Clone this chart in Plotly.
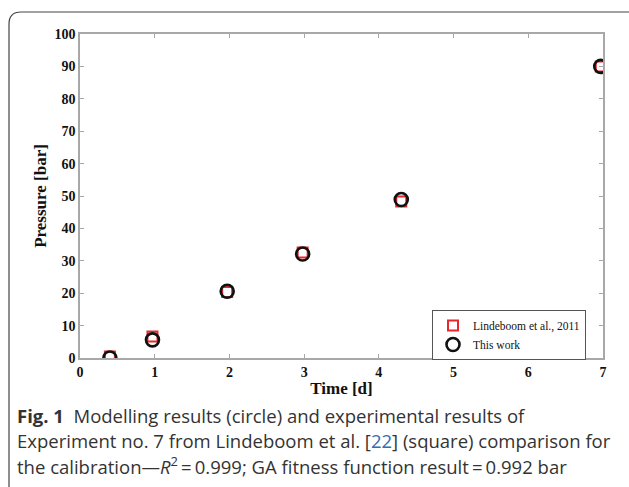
import plotly.graph_objects as go

time_exp = [0.4, 0.97, 1.97, 2.98, 4.3, 6.97]
press_exp = [0.5, 6.6, 20.4, 32.6, 48.3, 90.0]
time_model = [0.4, 0.97, 1.97, 2.98, 4.3, 6.97]
press_model = [0.0, 5.6, 20.6, 32.1, 48.9, 90.0]
x_ticks = [0, 1, 2, 3, 4, 5, 6, 7]
y_ticks = [0, 10, 20, 30, 40, 50, 60, 70, 80, 90, 100]

W, H = 629, 487
L, R, T, B = 80, 26, 34, 129
pw, ph = W - L - R, H - T - B

def px(x):
    return (x - L) / pw

def py(y):
    return (H - B - y) / ph

fig = go.Figure()
fig.add_trace(go.Scatter(
    x=time_exp, y=press_exp, mode="markers", name="Lindeboom et al., 2011",
    marker=dict(symbol="square-open", size=10, color="#e8262b", line=dict(width=2, color="#e8262b")),
))
fig.add_trace(go.Scatter(
    x=time_model, y=press_model, mode="markers", name="This work",
    marker=dict(symbol="circle-open", size=13, color="#111111", line=dict(width=2.6, color="#111111")),
))

axis_common = dict(
    showgrid=False, zeroline=False, showline=True, linecolor="#a8a8a8", linewidth=1.5,
    mirror="ticks", ticks="inside", ticklen=4, tickcolor="#a8a8a8",
    tickfont=dict(family="Liberation Serif", size=14, color="#111"),
)
fig.update_xaxes(range=[0, 7], tickvals=x_ticks, ticktext=[f"<b>{v}</b>" for v in x_ticks], **axis_common,
                 title=dict(text="<b>Time [d]</b>", font=dict(family="Liberation Serif", size=17, color="#111"), standoff=4))
fig.update_yaxes(range=[0, 100], tickvals=y_ticks, ticktext=[f"<b>{v}</b>" for v in y_ticks], **axis_common,
                 title=dict(text="<b>Pressure [bar]</b>", font=dict(family="Liberation Serif", size=17, color="#111"), standoff=4))

# Outer rounded border
x0, x1, y0, y1, r = px(9), px(640), py(490), py(12), 12
rx, ry = r / pw, r / ph
path = f"M {x0},{y0} L {x0},{y1 - ry} Q {x0},{y1} {x0 + rx},{y1} L {x1},{y1}"
fig.add_shape(type="path", path=path, xref="paper", yref="paper",
              line=dict(color="#444", width=1.2))

cap_font = dict(family="Open Sans", size=18.5, color="#333")
captions = [
    "<b>Fig. 1</b>  Modelling results (circle) and experimental results of",
    "Experiment no. 7 from Lindeboom et al. [<span style='color:#2f6db5'>22</span>] (square) comparison for",
    "the calibration—<i>R</i><sup>2</sup>\u2009=\u20090.999; GA fitness function result\u2009=\u20090.992 bar",
]
for i, c in enumerate(captions):
    fig.add_annotation(text=c, xref="paper", yref="paper", x=px(15), y=py(416 + 24.5 * i),
                       xanchor="left", yanchor="middle", showarrow=False, font=cap_font, align="left")

fig.update_layout(
    width=W, height=H, margin=dict(l=L, r=R, t=T, b=B),
    paper_bgcolor="white", plot_bgcolor="white",
    showlegend=True,
    legend=dict(x=px(432), y=py(310), xanchor="left", yanchor="top",
                bordercolor="#555", borderwidth=1, bgcolor="white",
                font=dict(family="Liberation Serif", size=11.5, color="#111"),
                itemwidth=30, tracegroupgap=0),
)
fig.write_html("out.html")
